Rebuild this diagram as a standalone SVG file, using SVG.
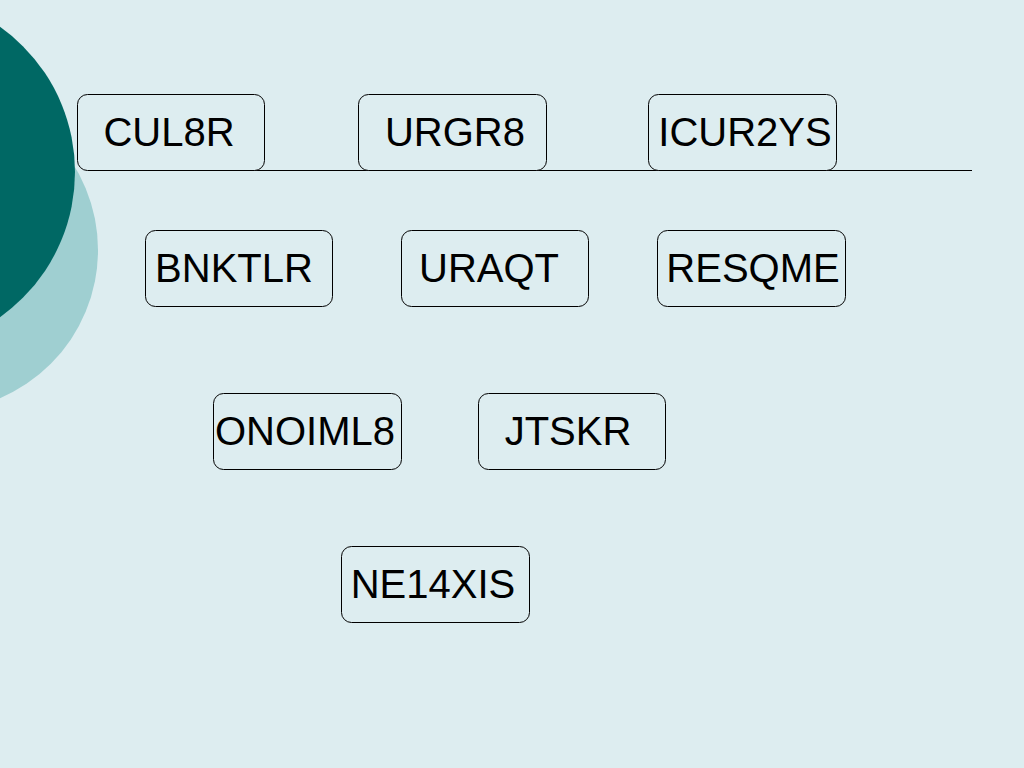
<svg xmlns="http://www.w3.org/2000/svg" width="1024" height="768" viewBox="0 0 1024 768">
<style>
.box{fill:#DDEDF0;stroke:#000;stroke-width:1}
.lbl{font-family:"Liberation Sans",Arial,sans-serif;font-size:40px;fill:#000;text-anchor:middle}
</style>
<rect width="1024" height="768" fill="#DDEDF0"/>
<circle cx="-63" cy="250" r="161" fill="#9FCFD1"/>
<circle cx="-103" cy="172" r="178" fill="#006864"/>
<g id="connectors">
<line x1="153" y1="170.5" x2="972" y2="170.5" stroke="#000" stroke-width="1.2"/>
</g>
<g id="n1"><rect class="box" x="77.5" y="94.5" width="187" height="76" rx="10"/><text class="lbl" x="169" y="146">CUL8R</text></g>
<g id="n2"><rect class="box" x="358.5" y="94.5" width="188" height="76" rx="10"/><text class="lbl" x="455" y="146">URGR8</text></g>
<g id="n3"><rect class="box" x="648.5" y="94.5" width="188" height="76" rx="10"/><text class="lbl" x="745" y="146">ICUR2YS</text></g>
<g id="n4"><rect class="box" x="145.5" y="230.5" width="187" height="76" rx="10"/><text class="lbl" x="234" y="282">BNKTLR</text></g>
<g id="n5"><rect class="box" x="401.5" y="230.5" width="187" height="76" rx="10"/><text class="lbl" x="489" y="282">URAQT</text></g>
<g id="n6"><rect class="box" x="657.5" y="230.5" width="188" height="76" rx="10"/><text class="lbl" x="753" y="282">RESQME</text></g>
<g id="n7"><rect class="box" x="213.5" y="393.5" width="188" height="76" rx="10"/><text class="lbl" x="305" y="445">ONOIML8</text></g>
<g id="n8"><rect class="box" x="478.5" y="393.5" width="187" height="76" rx="10"/><text class="lbl" x="568" y="445">JTSKR</text></g>
<g id="n9"><rect class="box" x="341.5" y="546.5" width="188" height="76" rx="10"/><text class="lbl" x="433" y="598">NE14XIS</text></g>
</svg>
